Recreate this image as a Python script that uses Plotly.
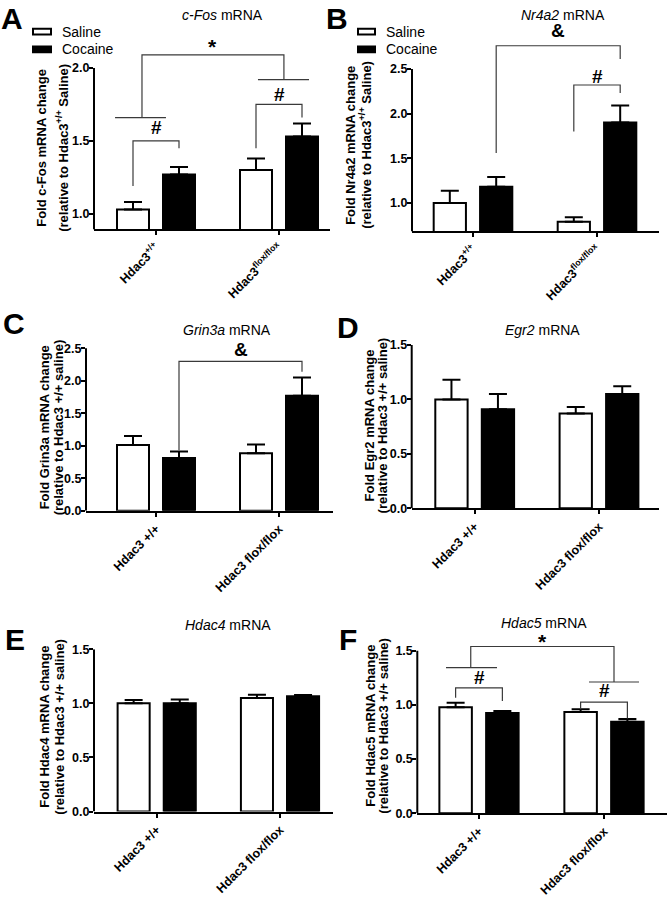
import plotly.graph_objects as go

W, H = 668, 900
FONT = "Liberation Sans, Arial, sans-serif"

# ---------------- data ----------------
genotypes_sup = ["Hdac3<sup>+/+</sup>", "Hdac3<sup>flox/flox</sup>"]
genotypes_txt = ["Hdac3 +/+", "Hdac3 flox/flox"]
treatments = ["Saline", "Cocaine"]

cfos_saline = [1.03, 1.30]
cfos_saline_sem = [0.05, 0.08]
cfos_cocaine = [1.27, 1.53]
cfos_cocaine_sem = [0.05, 0.09]

nr4a2_saline = [1.00, 0.79]
nr4a2_saline_sem = [0.135, 0.05]
nr4a2_cocaine = [1.18, 1.90]
nr4a2_cocaine_sem = [0.11, 0.19]

grin3a_saline = [1.01, 0.885]
grin3a_saline_sem = [0.14, 0.135]
grin3a_cocaine = [0.81, 1.77]
grin3a_cocaine_sem = [0.10, 0.28]

egr2_saline = [1.00, 0.87]
egr2_saline_sem = [0.18, 0.06]
egr2_cocaine = [0.91, 1.05]
egr2_cocaine_sem = [0.14, 0.07]

hdac4_saline = [1.00, 1.05]
hdac4_saline_sem = [0.03, 0.03]
hdac4_cocaine = [1.00, 1.065]
hdac4_cocaine_sem = [0.035, 0.012]

hdac5_saline = [0.98, 0.935]
hdac5_saline_sem = [0.04, 0.025]
hdac5_cocaine = [0.925, 0.845]
hdac5_cocaine_sem = [0.02, 0.025]

# ---------------- geometry / style ----------------
BAR_W = 0.26
HALF_SEP = 0.187
OFFSETS = [-HALF_SEP - BAR_W / 2, HALF_SEP - BAR_W / 2]
FILLS = ["white", "black"]


def bar_center(g, t):
    return g + (-HALF_SEP if t == 0 else HALF_SEP)


panels = [
    dict(letter="A", title="<i>c-Fos</i> mRNA", gene="c-Fos",
         sal=cfos_saline, sal_sem=cfos_saline_sem, coc=cfos_cocaine, coc_sem=cfos_cocaine_sem,
         labels=genotypes_sup, ylab2="(relative to Hdac3<sup>+/+</sup> Saline)",
         yticks=[1.0, 1.5, 2.0], lo=0.892, hi=2.2, top=2.0,
         box=(94, 330, 226, 148), centers=(156, 279),
         ytitle_x=(42, 62), ytitle_y=143, title_xy=(222, 8), letter_xy=(12, 12),
         brackets=[
             dict(label="#", x0=bar_center(0, 0), x1=bar_center(0, 1), y=1.50, y0=1.19, y1=1.45, ylab=1.59),
             dict(label="#", x0=bar_center(1, 0), x1=bar_center(1, 1), y=1.75, y0=1.45, y1=1.66, ylab=1.82),
             dict(label="*", x0=-0.114, x1=1.04, y=2.09, y0=1.66, y1=1.92, ylab=2.15),
         ],
         hlines=[dict(x0=-0.333, x1=0.081, y=1.66), dict(x0=0.829, x1=1.244, y=1.92)],
         legend=(33, 51, 60)),
    dict(letter="B", title="<i>Nr4a2</i> mRNA", gene="Nr4a2",
         sal=nr4a2_saline, sal_sem=nr4a2_saline_sem, coc=nr4a2_cocaine, coc_sem=nr4a2_cocaine_sem,
         labels=genotypes_sup, ylab2="(relative to Hdac3<sup>+/+</sup> Saline)",
         yticks=[1.0, 1.5, 2.0, 2.5], lo=0.68, hi=3.0, top=2.5,
         box=(412, 659, 228, 90.7), centers=(473, 597),
         ytitle_x=(351, 365), ytitle_y=140, title_xy=(563, 8), letter_xy=(337, 12),
         brackets=[
             dict(label="#", x0=bar_center(1, 0), x1=bar_center(1, 1), y=2.32, y0=1.80, y1=2.23, ylab=2.41),
             dict(label="&", x0=bar_center(0, 1), x1=bar_center(1, 1), y=2.76, y0=1.56, y1=2.61, ylab=2.93),
         ],
         hlines=[], legend=(358, 375, 384)),
    dict(letter="C", title="<i>Grin3a</i> mRNA", gene="Grin3a",
         sal=grin3a_saline, sal_sem=grin3a_saline_sem, coc=grin3a_cocaine, coc_sem=grin3a_cocaine_sem,
         labels=genotypes_txt, ylab2="(relative to Hdac3 +/+ saline)",
         yticks=[0.0, 0.5, 1.0, 1.5, 2.0, 2.5], lo=0.0, hi=2.6, top=2.5,
         box=(86, 333, 511.7, 66), centers=(156, 279),
         ytitle_x=(44, 58), ytitle_y=427, title_xy=(227, 328), letter_xy=(14, 321),
         brackets=[
             dict(label="&", x0=bar_center(0, 1), x1=bar_center(1, 1), y=2.30, y0=0.93, y1=2.14, ylab=2.48),
         ],
         hlines=[], legend=None),
    dict(letter="D", title="<i>Egr2</i> mRNA", gene="Egr2",
         sal=egr2_saline, sal_sem=egr2_saline_sem, coc=egr2_cocaine, coc_sem=egr2_cocaine_sem,
         labels=genotypes_txt, ylab2="(relative to Hdac3 +/+ saline)",
         yticks=[0.0, 0.5, 1.0, 1.5], lo=0.0, hi=1.5, top=1.5,
         box=(411.7, 659, 509.3, 110.67), centers=(474.7, 599),
         ytitle_x=(369, 382), ytitle_y=425, title_xy=(542, 328), letter_xy=(348, 326),
         brackets=[], hlines=[], legend=None),
    dict(letter="E", title="<i>Hdac4</i> mRNA", gene="Hdac4",
         sal=hdac4_saline, sal_sem=hdac4_saline_sem, coc=hdac4_cocaine, coc_sem=hdac4_cocaine_sem,
         labels=genotypes_txt, ylab2="(relative to Hdac3 +/+ saline)",
         yticks=[0.0, 0.5, 1.0, 1.5], lo=0.0, hi=1.5, top=1.5,
         box=(94, 333, 817.3, 110), centers=(156.7, 280),
         ytitle_x=(45, 60), ytitle_y=731, title_xy=(228, 628), letter_xy=(15, 642),
         brackets=[], hlines=[], legend=None),
    dict(letter="F", title="<i>Hdac5</i> mRNA", gene="Hdac5",
         sal=hdac5_saline, sal_sem=hdac5_saline_sem, coc=hdac5_cocaine, coc_sem=hdac5_cocaine_sem,
         labels=genotypes_txt, ylab2="(relative to Hdac3 +/+ saline)",
         yticks=[0.0, 0.5, 1.0, 1.5], lo=0.0, hi=1.68, top=1.5,
         box=(417.3, 667, 819, 110), centers=(479, 604),
         ytitle_x=(371, 384), ytitle_y=730, title_xy=(544, 626), letter_xy=(348, 642),
         brackets=[
             dict(label="#", x0=bar_center(0, 0), x1=bar_center(0, 1), y=1.157, y0=1.066, y1=1.036, ylab=1.25),
             dict(label="#", x0=bar_center(1, 0), x1=bar_center(1, 1), y=1.027, y0=0.96, y1=0.875, ylab=1.13),
             dict(label="*", x0=-0.066, x1=1.08, y=1.54, y0=1.345, y1=1.212, ylab=1.585),
         ],
         hlines=[dict(x0=-0.264, x1=0.144, y=1.345), dict(x0=0.88, x1=1.28, y=1.212)],
         legend=None),
]

fig = go.Figure()
shapes = []
annotations = []
layout_axes = {}

BRACKET = dict(color="#3a3a3a", width=1.2)
TICKFONT = dict(family=FONT, size=12.5, color="black")

for i, p in enumerate(panels):
    n = "" if i == 0 else str(i + 1)
    xid, yid = "x" + n, "y" + n
    left, right, bottom, ppu = p["box"]
    c0, c1 = p["centers"]
    sp = c1 - c0
    r0 = -(c0 - left) / sp
    r1 = r0 + (right - left) / sp
    top_px = bottom - (p["hi"] - p["lo"]) * ppu

    series = [(p["sal"], p["sal_sem"]), (p["coc"], p["coc_sem"])]
    for t, (vals, sems) in enumerate(series):
        fig.add_trace(go.Bar(
            x=[0, 1], y=vals, name=treatments[t], width=BAR_W, offset=OFFSETS[t],
            xaxis=xid, yaxis=yid, showlegend=False,
            marker=dict(color=FILLS[t], line=dict(color="black", width=2)),
            error_y=dict(type="data", array=sems, arrayminus=[0] * len(sems), symmetric=False,
                         color="black", thickness=2, width=9),
        ))

    layout_axes["xaxis" + n] = dict(
        domain=[left / W, right / W], range=[r0, r1], anchor=yid,
        tickvals=[0, 1], ticktext=[f"<b>{s}</b>" for s in p["labels"]], tickangle=-45,
        showline=True, linecolor="black", linewidth=2,
        ticks="outside", ticklen=4, tickwidth=2, tickcolor="black",
        showgrid=False, zeroline=False, tickfont=TICKFONT,
    )
    layout_axes["yaxis" + n] = dict(
        domain=[1 - bottom / H, 1 - top_px / H], range=[p["lo"], p["hi"]], anchor=xid,
        tickvals=p["yticks"], ticktext=[f"<b>{v:.1f}</b>" for v in p["yticks"]],
        showline=False, ticks="outside", ticklen=4, tickwidth=2, tickcolor="black",
        ticklabelstandoff=-3,
        showgrid=False, zeroline=False, tickfont=TICKFONT,
    )

    # y axis line (only up to the top tick)
    shapes.append(dict(type="line", xref=xid + " domain", yref=yid, x0=0, x1=0,
                       y0=p["lo"], y1=p["top"], line=dict(color="black", width=2)))

    # significance brackets
    for b in p["brackets"]:
        shapes.append(dict(type="path", xref=xid, yref=yid,
                           path=f"M {b['x0']},{b['y0']} L {b['x0']},{b['y']} L {b['x1']},{b['y']} L {b['x1']},{b['y1']}",
                           line=BRACKET))
        annotations.append(dict(xref=xid, yref=yid, x=(b["x0"] + b["x1"]) / 2, y=b["ylab"],
                                text=f"<b>{b['label']}</b>", showarrow=False,
                                xanchor="center", yanchor="middle",
                                font=dict(family=FONT, size=19 if b["label"] != "*" else 21, color="black")))
    for h in p["hlines"]:
        shapes.append(dict(type="line", xref=xid, yref=yid, x0=h["x0"], x1=h["x1"],
                           y0=h["y"], y1=h["y"], line=BRACKET))

    # titles / labels
    tx, ty = p["title_xy"]
    annotations.append(dict(xref="paper", yref="paper", x=tx / W, y=1 - ty / H, text=p["title"],
                            showarrow=False, xanchor="center", yanchor="middle",
                            font=dict(family=FONT, size=14, color="black")))
    lx, ly = p["letter_xy"]
    annotations.append(dict(xref="paper", yref="paper", x=lx / W, y=1 - ly / H, text=f"<b>{p['letter']}</b>",
                            showarrow=False, xanchor="center", yanchor="middle",
                            font=dict(family=FONT, size=30, color="black")))
    yl1, yl2 = p["ytitle_x"]
    for xx, txt in [(yl1, f"Fold {p['gene']} mRNA change"), (yl2, p["ylab2"])]:
        annotations.append(dict(xref="paper", yref="paper", x=xx / W, y=1 - p["ytitle_y"] / H,
                                text=f"<b>{txt}</b>", textangle=-90, showarrow=False,
                                xanchor="center", yanchor="middle",
                                font=dict(family=FONT, size=13, color="black")))

    # legend swatches
    if p["legend"]:
        sx0, sx1, txx = p["legend"]
        rows = [(25, "white"), (43, "black")]
        for (cy, fill), name in zip(rows, treatments):
            shapes.append(dict(type="rect", xref="paper", yref="paper",
                               x0=sx0 / W, x1=sx1 / W, y0=1 - (cy + 3) / H, y1=1 - (cy - 3) / H,
                               fillcolor=fill, line=dict(color="black", width=2)))
            annotations.append(dict(xref="paper", yref="paper", x=txx / W, y=1 - cy / H, text=name,
                                    showarrow=False, xanchor="left", yanchor="middle",
                                    font=dict(family=FONT, size=14, color="black")))

fig.update_layout(
    width=W, height=H, margin=dict(l=0, r=0, t=0, b=0),
    paper_bgcolor="white", plot_bgcolor="white",
    showlegend=False, shapes=shapes, annotations=annotations,
    font=dict(family=FONT, color="black"),
    **layout_axes,
)

fig.write_html("out.html", config={"displayModeBar": False},
               post_script="document.body.style.margin='0';document.body.style.overflow='hidden';")
